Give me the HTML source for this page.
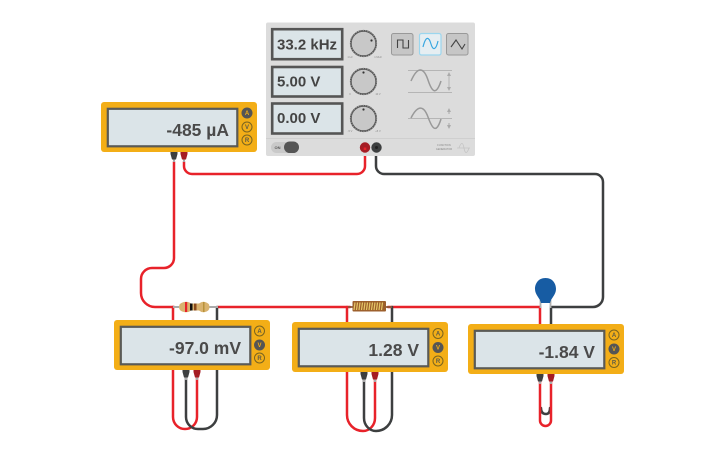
<!DOCTYPE html>
<html><head><meta charset="utf-8"><style>
html,body{margin:0;padding:0;background:#fff}
svg{display:block}
text{font-family:"Liberation Sans",sans-serif}
.d{font-weight:bold;fill:#444;font-size:15px}
.m{font-weight:bold;fill:#4a4a4a;font-size:17.5px;text-anchor:end}
.b{font-size:6px;text-anchor:middle;fill:#5a5a4a;font-weight:bold}
.w{fill:none;stroke-width:2.500;stroke-linecap:round}
.r{stroke:#e8222a}.k{stroke:#3d3f40}
.t{font-size:2.6px;fill:#888;text-anchor:middle}
</style></head><body>
<svg width="725" height="453" viewBox="0 0 725 453" xmlns="http://www.w3.org/2000/svg">
<defs>
<g id="mm">
<rect width="156" height="50" rx="3" fill="#f3ae17"/>
<rect x="6.800" y="6.800" width="129.500" height="37.500" fill="#dbe4e8" stroke="#5a5a56" stroke-width="2.200"/>
</g>
<g id="kn">
<circle r="12.700" fill="#c8c8c8" stroke="#555" stroke-width="1.800"/>
<circle r="13" fill="none" stroke="#999" stroke-width="1" stroke-dasharray="1.200 1.200"/>
</g>
<g id="pb"><path d="M-3.500 0H3.500V2L2 7.500H-2L-3.500 2Z"/><path d="M-1 7.500H1V10H-1Z" fill="#aaa"/></g>
</defs>

<!-- wires -->
<path class="w r" d="M184 162V166A8 8 0 0 0 192 174H357A8 8 0 0 0 365 166V148"/>
<path class="w k" d="M376 148V166A8 8 0 0 0 384 174H595A8 8 0 0 1 603 182V297A10 10 0 0 1 593 307H552"/>
<path class="w r" d="M174 162V258A10 10 0 0 1 164 268H152A11 11 0 0 0 141 279V293A14 14 0 0 0 155 307H174"/>
<path class="w r" d="M218 307H350M388 307H540"/>

<path class="w r" d="M173 307V417A12 12 0 0 0 197 417V378"/>
<path class="w k" d="M217 307V415A14 14 0 0 1 203 429H198A12 12 0 0 1 186 417V378"/>
<path class="w r" d="M347 307V415A16 16 0 0 0 363 431A12 13 0 0 0 375 418V378"/>
<path class="w k" d="M392 307V415A16 16 0 0 1 376 431A12 13 0 0 1 364 418V378"/>
<path class="w r" d="M540 307V324"/>
<path class="w k" d="M551 307V324"/>
<path class="w k" d="M541 408Q541 414 546 414Q550 414 550 408"/>
<path class="w r" d="M540 378V420.500A5.500 5.500 0 0 0 551 420.500V378"/>

<!-- function generator -->
<rect x="266" y="22.500" width="209" height="133.500" rx="2" fill="#dcdcdc"/>
<path d="M266 138.500H475" stroke="#cfcfcf"/>
<rect x="272.200" y="29.200" width="70" height="30" fill="#dbe4e8" stroke="#555" stroke-width="2.600"/>
<rect x="272.200" y="67" width="70" height="29.500" fill="#dbe4e8" stroke="#555" stroke-width="2.600"/>
<rect x="272.200" y="103.500" width="70" height="30" fill="#dbe4e8" stroke="#555" stroke-width="2.600"/>
<text class="d" x="277" y="49.500">33.2 kHz</text>
<text class="d" x="277" y="86.500">5.00 V</text>
<text class="d" x="277" y="123">0.00 V</text>
<use href="#kn" x="363.500" y="43.500"/><circle cx="371.500" cy="40.500" r="1.100" fill="#333"/>
<use href="#kn" x="363.500" y="81.500"/><circle cx="363.500" cy="72.500" r="1.100" fill="#333"/>
<use href="#kn" x="363.500" y="118.500"/><circle cx="363.500" cy="109.500" r="1.100" fill="#333"/>
<text class="t" x="350" y="58">1 Hz</text><text class="t" x="378" y="58">1 MHz</text>
<text class="t" x="350" y="95">0</text><text class="t" x="378" y="95">10 V</text>
<text class="t" x="350" y="132">-5 V</text><text class="t" x="378" y="132">+5 V</text>

<rect x="391.500" y="33.500" width="21.500" height="21.500" rx="2" fill="#c6c6c6" stroke="#999"/>
<path d="M397.500 48V40H403V48H408.500V40" fill="none" stroke="#444" stroke-width="1.100"/>
<rect x="419.500" y="33.500" width="21.500" height="21.500" rx="2" fill="#e6eef2" stroke="#9bd6ee" stroke-width="1.200"/>
<path d="M423 47C426 35 429 37 431 44S436 50 438 41" fill="none" stroke="#3aa7e0" stroke-width="1.200"/>
<rect x="446.500" y="33.500" width="21.500" height="21.500" rx="2" fill="#c6c6c6" stroke="#999"/>
<path d="M451 47L456 40L462 49L465 44" fill="none" stroke="#444" stroke-width="1.100"/>

<path d="M408 70.500H452M408 92.500H452M449 73V90" stroke="#b5b5b5" fill="none"/>
<path d="M447 76L449 72L451 76ZM447 87L449 91L451 87Z" fill="#aaa"/>
<path d="M411 81C418 65 424 68 428 80S436 96 441 81" fill="none" stroke="#999" stroke-width="1.500"/>
<path d="M408 118.500H452" stroke="#b5b5b5"/>
<path d="M449 110V114M449 123V127" stroke="#aaa"/>
<path d="M447 112L449 108L451 112ZM447 125L449 129L451 125Z" fill="#aaa"/>
<path d="M411 118C418 104 424 106 428 117S436 135 441 119" fill="none" stroke="#999" stroke-width="1.500"/>
<rect x="271" y="142" width="28" height="11" rx="5.500" fill="#c9c9c9"/>
<rect x="284" y="141.500" width="15" height="11.500" rx="5.700" fill="#555"/>
<text x="277.500" y="149" style="font-size:4px;font-weight:bold;fill:#555" text-anchor="middle">ON</text>
<text class="t" x="444" y="146">FUNCTION</text><text class="t" x="444" y="150">GENERATOR</text>
<path d="M457 148H470M459 148C461 142 463 142 464 148S467 154 469 148" fill="none" stroke="#c4c4c4" stroke-width=".8"/>
<circle cx="365" cy="147.500" r="5.200" fill="#a51c24"/><path d="M365 147.500V150" stroke="#e8222a" stroke-width="2.500"/>
<circle cx="376.500" cy="147.500" r="5.200" fill="#3d3f40"/><circle cx="376.500" cy="147.500" r="1.500" fill="#222"/>

<!-- meters -->
<use href="#mm" x="101" y="102"/>
<text class="m" x="229" y="136">-485 µA</text>
<circle cx="247" cy="113" r="5.500" fill="#555"/><circle cx="247" cy="127" r="5" fill="none" stroke="#7a6420"/><circle cx="247" cy="140" r="5" fill="none" stroke="#7a6420"/>
<text class="b" x="247" y="115" style="fill:#f3ae17">A</text><text class="b" x="247" y="129">V</text><text class="b" x="247" y="142">R</text>

<use href="#mm" x="114" y="320"/>
<text class="m" x="241" y="354">-97.0 mV</text>
<circle cx="259.500" cy="331" r="5" fill="none" stroke="#7a6420"/><circle cx="259.500" cy="345" r="5.500" fill="#555"/><circle cx="259.500" cy="358" r="5" fill="none" stroke="#7a6420"/>
<text class="b" x="259.500" y="333">A</text><text class="b" x="259.500" y="347" style="fill:#f3ae17">V</text><text class="b" x="259.500" y="360">R</text>

<use href="#mm" x="292" y="322"/>
<text class="m" x="419" y="356">1.28 V</text>
<circle cx="438" cy="333.500" r="5" fill="none" stroke="#7a6420"/><circle cx="438" cy="347.500" r="5.500" fill="#555"/><circle cx="438" cy="361" r="5" fill="none" stroke="#7a6420"/>
<text class="b" x="438" y="335.500">A</text><text class="b" x="438" y="349.500" style="fill:#f3ae17">V</text><text class="b" x="438" y="363">R</text>

<use href="#mm" x="468" y="324"/>
<text class="m" x="595" y="358">-1.84 V</text>
<circle cx="614" cy="335" r="5" fill="none" stroke="#7a6420"/><circle cx="614" cy="349" r="5.500" fill="#555"/><circle cx="614" cy="362.500" r="5" fill="none" stroke="#7a6420"/>
<text class="b" x="614" y="337">A</text><text class="b" x="614" y="351" style="fill:#f3ae17">V</text><text class="b" x="614" y="364.500">R</text>

<!-- terminals -->
<g fill="#3d3f40">
<use href="#pb" x="174" y="152"/><use href="#pb" x="186" y="370"/><use href="#pb" x="364" y="372"/><use href="#pb" x="540" y="374"/>
</g>
<g fill="#a51c24">
<use href="#pb" x="184" y="152"/><use href="#pb" x="197" y="370"/><use href="#pb" x="375" y="372"/><use href="#pb" x="551" y="374"/>
</g>

<!-- resistor -->
<path d="M173 307H179M209 307H218" stroke="#aaa" stroke-width="2"/>
<path d="M179 307Q179 303 184 302Q188 301 191 303.500H199Q202 301 205 302Q209.500 303 209.500 307Q209.500 311 205 312Q202 313 199 310.500H191Q188 313 184 312Q179 311 179 307Z" fill="#d9b36f"/>
<rect x="185" y="302" width="2.200" height="10" fill="#e8222a"/>
<rect x="190" y="303.500" width="2.500" height="7" fill="#111"/>
<rect x="194" y="303.500" width="2.500" height="7" fill="#8a4a1c"/>
<rect x="203" y="302" width="1.500" height="10" fill="#b8923a"/>

<!-- inductor -->
<path d="M348 307H392" stroke="#8a5a3a" stroke-width="1.800"/>
<rect x="352.500" y="301" width="33.500" height="10.500" rx="1" fill="#9c5f2c"/>
<path d="M355 302.500L354 310M357.500 302.500L356.500 310M360 302.500L359 310M362.500 302.500L361.500 310M365 302.500L364 310M367.500 302.500L366.500 310M370 302.500L369 310M372.500 302.500L371.500 310M375 302.500L374 310M377.500 302.500L376.500 310M380 302.500L379 310M382.500 302.500L381.500 310" stroke="#e6c868" stroke-width="1.200"/>

<!-- capacitor -->
<path d="M540.500 308V300M550.500 308V300" stroke="#b0b0b0" stroke-width="1.800"/>
<path d="M545.500 278C538 278 535 284 535 289C535 295 540 298 541 303H550C551 298 556 295 556 289C556 284 553 278 545.500 278Z" fill="#175ca3"/>
</svg>
</body></html>
